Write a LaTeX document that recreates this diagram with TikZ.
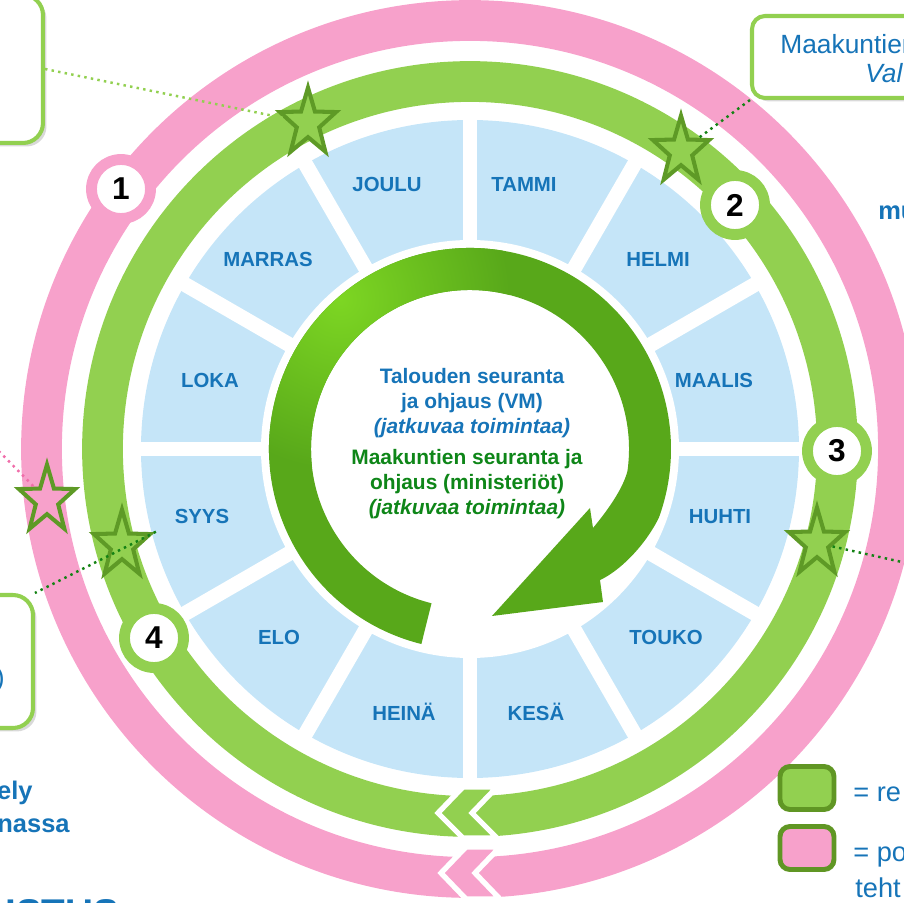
\documentclass[tikz,border=0pt]{standalone}
\usepackage{fontspec}
\setmainfont{Liberation Sans}
\usetikzlibrary{shapes.geometric,shadows}
\definecolor{ringpink}{RGB}{247,161,203}
\definecolor{ringgreen}{RGB}{146,208,80}
\definecolor{stardark}{RGB}{94,154,38}
\definecolor{legdark}{RGB}{96,150,36}
\definecolor{segblue}{RGB}{197,229,248}
\definecolor{txtblue}{RGB}{22,116,184}
\definecolor{txtgreen}{RGB}{14,134,24}
\definecolor{arrowlight}{RGB}{125,214,35}
\definecolor{arrowdark}{RGB}{88,168,26}
\definecolor{dotgreen}{RGB}{20,130,20}
\definecolor{dotpink}{RGB}{240,110,170}
\newcommand{\cyclearrowpath}{(256:201) arc[start angle=256, end angle=-20, radius=201] .. controls (-30:200) and (-40:192) .. (130,-131) -- (133,-153) -- (22,-167) -- (120,-59) -- (123,-79) .. controls (-25:150) and (-15:158) .. (-8:159) arc[start angle=-8, end angle=256, radius=159] -- cycle}
\tikzset{
    month/.style = {font=\bfseries\fontsize{11.6}{13}\selectfont, text=txtblue, text height=0.72em, text depth=0pt, inner sep=0pt},
    badge/.style = {circle, fill=white, line width=6.2pt, minimum size=1.18cm, inner sep=0pt, font=\bfseries\fontsize{18}{18}\selectfont},
    ringstar/.style = {star, star points=5, star point ratio=2.5, minimum size=1.18cm, inner sep=0pt, draw=stardark, line width=2.3pt, fill=ringgreen, yscale=1.2},
    infobox/.style = {rectangle, draw=ringgreen, line width=2.3pt, fill=white, drop shadow={opacity=0.3, shadow xshift=0.07cm, shadow yshift=-0.07cm}},
    dotline/.style = {line width=1.4pt, dash pattern=on 1.4pt off 2.4pt},
    chevron/.style = {draw=white, line width=3pt, line join=miter},
    legbox/.style = {rectangle, rounded corners=0.2cm, draw=legdark, line width=2.8pt, minimum width=1.08cm, minimum height=0.86cm, inner sep=0pt},
    sidetext/.style = {inner sep=0pt, text=txtblue}
}
\begin{document}
\begin{tikzpicture}[x=0.02cm, y=0.02cm]
\useasboundingbox (-470,-454) rectangle (434,449);
\clip (-470,-454) rectangle (434,449);

\draw [ringpink, line width=23.2pt] (0,0) circle (428.5);
\draw [ringgreen, line width=23.2pt] (0,0) circle (367.5);

\fill [segblue] (0,0) circle (329);
\draw [white, line width=8.5pt] (0:340) -- (180:340);
\draw [white, line width=8.5pt] (30:340) -- (210:340);
\draw [white, line width=8.5pt] (60:340) -- (240:340);
\draw [white, line width=8.5pt] (90:340) -- (270:340);
\draw [white, line width=8.5pt] (120:340) -- (300:340);
\draw [white, line width=8.5pt] (150:340) -- (330:340);
\fill [white] (0,0) circle (209);

\fill [arrowdark] \cyclearrowpath;
\begin{scope}
\clip \cyclearrowpath;
\shade [inner color=arrowlight, outer color=arrowdark] (-130,150) circle (170);
\end{scope}

\node (vmText) [align=center, text=txtblue, font=\bfseries\fontsize{11.9}{14.3}\selectfont] at (2,46) {Talouden seuranta\\ja ohjaus (VM)\\\textit{(jatkuvaa toimintaa)}};
\node (minText) [align=center, text=txtgreen, font=\bfseries\fontsize{11.9}{14.3}\selectfont] at (-3,-35) {Maakuntien seuranta ja\\ohjaus (ministeriöt)\\\textit{(jatkuvaa toimintaa)}};

\node (joulu) [month] at (-83,264) {JOULU};
\node (tammi) [month] at (54,264) {TAMMI};
\node (helmi) [month] at (188,189) {HELMI};
\node (maalis) [month] at (244,68) {MAALIS};
\node (huhti) [month] at (250,-68) {HUHTI};
\node (touko) [month] at (196,-189) {TOUKO};
\node (kesa) [month] at (66,-265) {KESÄ};
\node (heina) [month] at (-66,-265) {HEINÄ};
\node (elo) [month] at (-191,-189) {ELO};
\node (syys) [month] at (-268,-68) {SYYS};
\node (loka) [month] at (-260,68) {LOKA};
\node (marras) [month] at (-202,189) {MARRAS};

\filldraw [chevron, fill=ringgreen] (-7,-338) -- (27,-338) -- (2,-364) -- (27,-389) -- (-7,-389) -- (-32,-364) -- cycle;
\filldraw [chevron, fill=ringpink] (-4,-398) -- (30,-398) -- (5,-424) -- (30,-450) -- (-4,-450) -- (-29,-424) -- cycle;

\node (b1) [badge, draw=ringpink] at (-349,260) {1};
\node (b2) [badge, draw=ringgreen] at (265,244) {2};
\node (b3) [badge, draw=ringgreen] at (367,-2) {3};
\node (b4) [badge, draw=ringgreen] at (-316,-189) {4};

\node (boxTL) [infobox, rounded corners=0.4cm, minimum width=4.9cm, minimum height=2.96cm, anchor=south east] at (-425,304) {};
\node (boxTR) [infobox, rounded corners=0.26cm, minimum width=5cm, minimum height=1.64cm, anchor=south west] at (280,349) {};
\node (boxBL) [infobox, rounded corners=0.4cm, minimum width=4cm, minimum height=2.66cm, anchor=north east] at (-435,-144) {};

\node (trLine1) [sidetext, anchor=base west, font=\fontsize{15}{17}\selectfont] at (310,395) {Maakuntien};
\node (trLine2) [sidetext, anchor=base west, font=\itshape\fontsize{15}{17}\selectfont] at (395,366) {Val};
\node (blText) [sidetext, anchor=east, font=\fontsize{15}{17}\selectfont] at (-465,-231) {)};
\node (muText) [sidetext, anchor=base west, font=\bfseries\fontsize{14.5}{16}\selectfont] at (408,229) {mu};
\node (elyText) [sidetext, anchor=base east, font=\bfseries\fontsize{14.5}{16}\selectfont] at (-437,-351) {ely};
\node (nassaText) [sidetext, anchor=base east, font=\bfseries\fontsize{14.5}{16}\selectfont] at (-400,-383) {nassa};
\node (istusText) [sidetext, anchor=base west, font=\bfseries\fontsize{22}{24}\selectfont] at (-465,-478) {ISTUS};

\node (s1) [ringstar] at (-162,326) {};
\node (s2) [ringstar] at (211,298) {};
\node (s3) [ringstar] at (347,-94) {};
\node (s4) [ringstar] at (-348,-96) {};
\node (s5) [ringstar, fill=ringpink] at (-423,-51) {};
\coordinate (rEnd) at (490,-126);
\coordinate (pEnd) at (-490,17);

\draw [dotline, ringgreen] (boxTL.east) -- (s1);
\draw [dotline, dotgreen] (boxTR.south west) -- (s2);
\draw [dotline, dotgreen] (s3) -- (rEnd);
\draw [dotline, dotgreen] (s4.outer point 5) -- (boxBL.north east);
\draw [dotline, dotpink] (pEnd) -- (s5);

\node (legGreen) [legbox, fill=ringgreen] at (337,-339) {};
\node (legPink) [legbox, fill=ringpink] at (337,-399) {};
\node (legText1) [sidetext, anchor=base west, font=\fontsize{15.5}{17}\selectfont] at (383,-353) {= re};
\node (legText2) [sidetext, anchor=base west, font=\fontsize{15.5}{17}\selectfont] at (383,-413) {= po};
\node (legText3) [sidetext, anchor=base west, font=\fontsize{15.5}{17}\selectfont] at (385,-448) {teht};
\end{tikzpicture}
\end{document}
